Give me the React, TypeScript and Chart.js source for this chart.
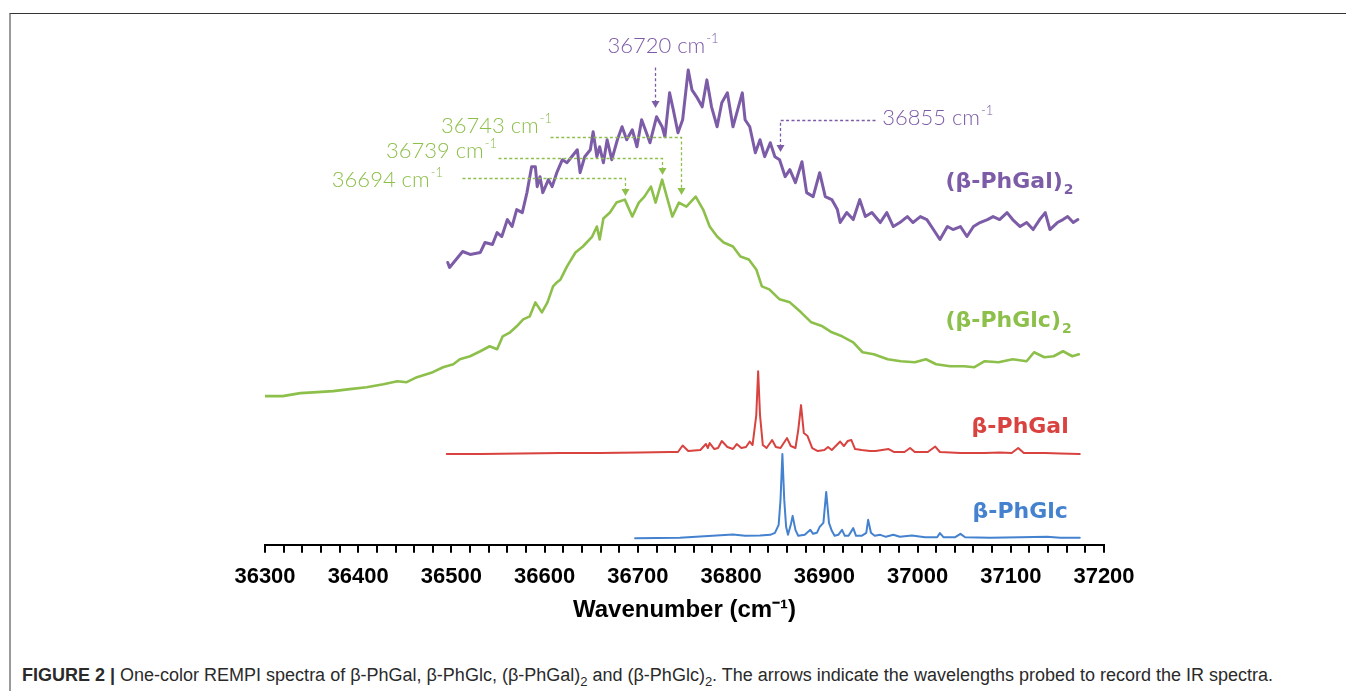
import React, { useEffect, useRef } from 'react';
import { Chart, registerables } from 'chart.js';

Chart.register(...registerables);

// ---------- data (wavenumber in cm-1, intensity in arbitrary offset units) ----------
const galDimerWn = [
  36496, 36498, 36512, 36520, 36531, 36536, 36544, 36549, 36554, 36560,
  36565, 36570, 36576, 36581, 36586, 36590, 36592, 36595, 36598, 36604,
  36608, 36613, 36619, 36624, 36629, 36635, 36638, 36643, 36649, 36652,
  36656, 36659, 36663, 36667, 36672, 36678, 36683, 36688, 36694, 36699,
  36704, 36708, 36713, 36720, 36726, 36729, 36734, 36738, 36743, 36748,
  36754, 36758, 36763, 36769, 36774, 36779, 36785, 36790, 36796, 36799,
  36802, 36807, 36812, 36815, 36820, 36826, 36831, 36836, 36842, 36847,
  36852, 36858, 36863, 36869, 36876, 36881, 36888, 36895, 36901, 36908,
  36914, 36917, 36924, 36931, 36938, 36944, 36951, 36960, 36967, 36974,
  36981, 36989, 36995, 37003, 37010, 37017, 37024, 37032, 37038, 37046,
  37053, 37060, 37067, 37075, 37081, 37088, 37096, 37102, 37110, 37117,
  37124, 37131, 37137, 37142, 37150, 37156, 37161, 37167, 37172,
];
const galDimerInt = [
  283, 278, 294, 291, 293, 303, 301, 313, 309, 326,
  319, 336, 333, 353, 379, 379, 359, 369, 353, 366,
  359, 373, 386, 383, 389, 396, 373, 389, 396, 414,
  389, 399, 383, 406, 386, 406, 419, 406, 416, 399,
  426, 416, 403, 429, 419, 409, 453, 436, 413, 426,
  476, 456, 449, 439, 466, 439, 419, 443, 453, 436,
  419, 436, 453, 426, 419, 393, 406, 389, 403, 389,
  386, 369, 376, 363, 384, 353, 349, 373, 349, 346,
  336, 323, 333, 326, 346, 329, 333, 323, 333, 319,
  323, 329, 323, 329, 326, 316, 306, 319, 316, 319,
  309, 319, 323, 326, 329, 326, 333, 326, 319, 323,
  316, 326, 333, 316, 323, 326, 329, 323, 326,
];

const glcDimerWn = [
  36298, 36319, 36338, 36356, 36373, 36391, 36409, 36427, 36442, 36452,
  36463, 36480, 36491, 36502, 36509, 36520, 36531, 36541, 36549, 36555,
  36563, 36570, 36577, 36584, 36590, 36597, 36603, 36609, 36613, 36617,
  36624, 36633, 36641, 36651, 36656, 36659, 36663, 36670, 36677, 36686,
  36694, 36701, 36707, 36714, 36719, 36726, 36731, 36737, 36744, 36752,
  36762, 36770, 36777, 36785, 36792, 36802, 36810, 36819, 36827, 36833,
  36841, 36852, 36863, 36875, 36886, 36898, 36908, 36919, 36931, 36941,
  36953, 36968, 36982, 36997, 37009, 37020, 37035, 37050, 37061, 37072,
  37087, 37102, 37117, 37125, 37136, 37146, 37156, 37166, 37173,
];
const glcDimerInt = [
  149, 149, 152, 153, 154, 156, 158, 161, 164, 163,
  168, 173, 178, 181, 186, 189, 194, 199, 196, 209,
  213, 219, 226, 229, 243, 233, 243, 259, 263, 266,
  279, 293, 299, 309, 319, 306, 327, 333, 343, 346,
  329, 343, 349, 359, 343, 366, 349, 329, 343, 339,
  349, 336, 319, 309, 303, 299, 289, 286, 276, 259,
  256, 246, 243, 233, 223, 219, 213, 209, 203, 193,
  191, 186, 184, 183, 186, 181, 179, 179, 178, 184,
  183, 186, 184, 193, 188, 189, 194, 189, 191,
];

const galWn = [
  36495, 36531, 36574, 36617, 36659, 36702, 36734, 36743, 36748, 36754,
  36767, 36773, 36775, 36777, 36782, 36786, 36790, 36796, 36802, 36806,
  36811, 36816, 36820, 36823, 36827, 36829, 36831, 36834, 36838, 36844,
  36848, 36853, 36860, 36864, 36869, 36872, 36875, 36878, 36882, 36887,
  36893, 36900, 36904, 36908, 36917, 36921, 36925, 36929, 36933, 36940,
  36949, 36955, 36969, 36975, 36986, 36992, 36997, 37011, 37019, 37024,
  37046, 37072, 37088, 37101, 37108, 37114, 37137, 37153, 37174,
];
const galInt = [
  91, 91, 91.5, 92, 92, 92.5, 93, 93, 99.5, 94,
  95, 101, 97, 102, 96, 97, 104, 98, 96, 101,
  97, 98, 103.5, 100, 130, 174, 130, 100, 97, 105,
  98, 97, 107, 99, 97, 115, 140, 112, 109, 97,
  94, 95, 98, 95, 103.5, 99, 104, 105, 96, 95,
  94, 94, 96, 93, 93, 97, 93, 93, 98.5, 93,
  92, 92, 92.5, 92, 97, 92, 92, 91.5, 91,
];

const glcWn = [
  36697, 36745, 36780, 36802, 36815, 36831, 36842, 36847, 36851, 36853,
  36855, 36857, 36859, 36861, 36864, 36866, 36869, 36872, 36879, 36885,
  36888, 36892, 36895, 36899, 36902, 36905, 36908, 36911, 36915, 36919,
  36922, 36926, 36931, 36934, 36940, 36945, 36947, 36950, 36954, 36960,
  36966, 36974, 36981, 36994, 37008, 37021, 37024, 37028, 37040, 37046,
  37051, 37078, 37110, 37139, 37153, 37174,
];
const glcInt = [
  6.5, 7, 9, 10.3, 9, 9.3, 10, 12, 20, 45,
  91, 45, 18, 10, 20, 29, 15, 9, 10, 15,
  11, 12, 18, 22, 53, 22, 14, 9, 10, 15,
  9, 9, 16.7, 9, 9, 12, 25, 12, 9, 10,
  8, 10, 8, 9.3, 7.5, 7.5, 11.7, 7.5, 7.5, 11,
  7.5, 7, 7.5, 8, 7, 7,
];

const xMin = 36300;
const xMax = 37200;
const majorStep = 100;
const minorStep = 20;

const seriesNames = ['(β-PhGal)', '(β-PhGlc)', 'β-PhGal', 'β-PhGlc'];
const probeValues = ['36720', '36855', '36743', '36739', '36694'];

// ---------- styles ----------
const PURPLE = '#7d5ca7';
const GREEN = '#8dbf4b';
const RED = '#d8423f';
const BLUE = '#4482cf';

const zip = (xs: number[], ys: number[]) => xs.map((x, i) => ({ x, y: ys[i] }));

type Ann = {
  text: string;
  color: string;
  tx: number;
  tv: number;
  align: 'left' | 'right' | 'center';
  path: [number, number][];
};

const probeAnnotations: Ann[] = [
  { text: probeValues[0] + ' cm', color: PURPLE, tx: 36727, tv: 500, align: 'center', path: [[36718, 479], [36718, 438]] },
  { text: probeValues[1] + ' cm', color: PURPLE, tx: 36962, tv: 428, align: 'left', path: [[36954, 426], [36852, 426], [36852, 394]] },
  { text: probeValues[2] + ' cm', color: GREEN, tx: 36608, tv: 420, align: 'right', path: [[36606, 409], [36746, 409], [36746, 351]] },
  { text: probeValues[3] + ' cm', color: GREEN, tx: 36549, tv: 395, align: 'right', path: [[36550, 388], [36726, 388], [36726, 371]] },
  { text: probeValues[4] + ' cm', color: GREEN, tx: 36491, tv: 366, align: 'right', path: [[36511, 368], [36686, 368], [36686, 350]] },
];

const seriesLabels = [
  { text: seriesNames[0], sub: '2', color: PURPLE, tx: 37030, tv: 363 },
  { text: seriesNames[1], sub: '2', color: GREEN, tx: 37030, tv: 224 },
  { text: seriesNames[2], sub: '', color: RED, tx: 37058, tv: 118 },
  { text: seriesNames[3], sub: '', color: BLUE, tx: 37059, tv: 33 },
];

function drawScripted(
  ctx: CanvasRenderingContext2D,
  main: string,
  script: string,
  x: number,
  y: number,
  align: string,
  mainFont: string,
  scriptFont: string,
  scriptDy: number,
  gap: number,
  color: string
) {
  ctx.font = mainFont;
  const w1 = ctx.measureText(main).width;
  ctx.font = scriptFont;
  const w2 = script ? ctx.measureText(script).width : 0;
  const total = w1 + (script ? gap + w2 : 0);
  const sx = align === 'left' ? x : align === 'right' ? x - total : x - total / 2;
  ctx.fillStyle = color;
  ctx.textAlign = 'left';
  ctx.textBaseline = 'middle';
  ctx.font = mainFont;
  ctx.fillText(main, sx, y);
  if (script) {
    ctx.font = scriptFont;
    ctx.fillText(script, sx + w1 + gap, y + scriptDy);
  }
}

const annotationPlugin = {
  id: 'probeAnnotations',
  afterDatasetsDraw(chart: any) {
    const { ctx, scales } = chart;
    const xs = scales.x;
    const ys = scales.y;
    const px = (w: number) => xs.getPixelForValue(w);
    const py = (v: number) => ys.getPixelForValue(v);
    ctx.save();
    const head = 7;
    for (const a of probeAnnotations) {
      const pts = a.path.map(([w, v]) => [Math.round(px(w)) + 0.5, Math.round(py(v))]);
      const tip = pts[pts.length - 1];
      ctx.strokeStyle = a.color;
      ctx.lineWidth = 1.3;
      ctx.setLineDash([3, 2.4]);
      ctx.beginPath();
      pts.forEach((p, i) => {
        const yy = i === pts.length - 1 ? p[1] - head : p[1] + 0.5;
        if (i === 0) ctx.moveTo(p[0], p[1] + 0.5);
        else ctx.lineTo(p[0], yy);
      });
      ctx.stroke();
      ctx.setLineDash([]);
      ctx.fillStyle = a.color;
      ctx.beginPath();
      ctx.moveTo(tip[0], tip[1]);
      ctx.lineTo(tip[0] - 4, tip[1] - head);
      ctx.lineTo(tip[0] + 4, tip[1] - head);
      ctx.closePath();
      ctx.fill();
      drawScripted(ctx, a.text, '-1', px(a.tx), py(a.tv), a.align,
        '300 22px Lato, "Open Sans", sans-serif', '300 13px Lato, "Open Sans", sans-serif', -7, 1, a.color);
    }
    for (const l of seriesLabels) {
      drawScripted(ctx, l.text, l.sub, px(l.tx), py(l.tv), 'left',
        'bold 22px "DejaVu Sans", sans-serif', 'bold 14px "DejaVu Sans", sans-serif', 8, 1, l.color);
    }
    ctx.restore();
  },
};

export default function App() {
  const canvasRef = useRef<HTMLCanvasElement | null>(null);

  useEffect(() => {
    if (!canvasRef.current) return;
    const chart = new Chart(canvasRef.current, {
      type: 'line',
      data: {
        datasets: [
          { data: zip(galDimerWn, galDimerInt), borderColor: PURPLE, borderWidth: 3 },
          { data: zip(glcDimerWn, glcDimerInt), borderColor: GREEN, borderWidth: 2.6 },
          { data: zip(galWn, galInt), borderColor: RED, borderWidth: 2 },
          { data: zip(glcWn, glcInt), borderColor: BLUE, borderWidth: 2 },
        ] as any,
      },
      options: {
        responsive: false,
        maintainAspectRatio: false,
        animation: false,
        layout: { padding: { left: 265, right: 242, top: 30, bottom: 11 } },
        elements: {
          point: { radius: 0 },
          line: { tension: 0, borderJoinStyle: 'round', borderCapStyle: 'round' },
        },
        plugins: { legend: { display: false }, tooltip: { enabled: false } },
        scales: {
          x: {
            type: 'linear',
            position: 'bottom',
            min: xMin,
            max: xMax,
            border: { display: true, color: '#000', width: 2 },
            grid: { display: true, drawOnChartArea: false, drawTicks: true, tickLength: 8, color: '#000', lineWidth: 2 },
            ticks: {
              stepSize: minorStep,
              autoSkip: false,
              maxRotation: 0,
              minRotation: 0,
              padding: 11,
              color: '#000',
              font: { family: '"Liberation Sans", Arial, sans-serif', weight: 'bold', size: 22 },
              callback: (v: any) => (Number(v) % majorStep === 0 ? String(v) : ''),
            },
            title: {
              display: true,
              text: 'Wavenumber (cm⁻¹)',
              color: '#000',
              font: { family: '"Liberation Sans", Arial, sans-serif', weight: 'bold', size: 24 },
              padding: { top: -5, bottom: 4 },
            },
          },
          y: { type: 'linear', display: false, min: 0, max: 516 },
        },
      } as any,
      plugins: [annotationPlugin],
    });
    return () => chart.destroy();
  }, []);

  return (
    <div style={{ position: 'absolute', left: 0, top: 0, width: 1346, height: 691, overflow: 'hidden', background: '#fff' }}>
      <div
        style={{
          position: 'absolute', left: 9, top: 13, right: 0, bottom: -10,
          borderTop: '1px solid #333', borderLeft: '2px solid #9a9a9a',
        }}
      />
      <canvas ref={canvasRef} width={1346} height={640} style={{ position: 'absolute', left: 0, top: 0, width: 1346, height: 640 }} />
      <div
        style={{
          position: 'absolute', left: 22, top: 664, whiteSpace: 'nowrap',
          fontFamily: '"Liberation Sans", Arial, sans-serif', fontSize: 18, lineHeight: '22px', color: '#2a2a2a',
        }}
      >
        <b>FIGURE 2 |</b> One-color REMPI spectra of β-PhGal, β-PhGlc, (β-PhGal)<sub style={{ fontSize: 13, lineHeight: 0 }}>2</sub> and (β-PhGlc)<sub style={{ fontSize: 13, lineHeight: 0 }}>2</sub>. The arrows indicate the wavelengths probed to record the IR spectra.
      </div>
    </div>
  );
}
